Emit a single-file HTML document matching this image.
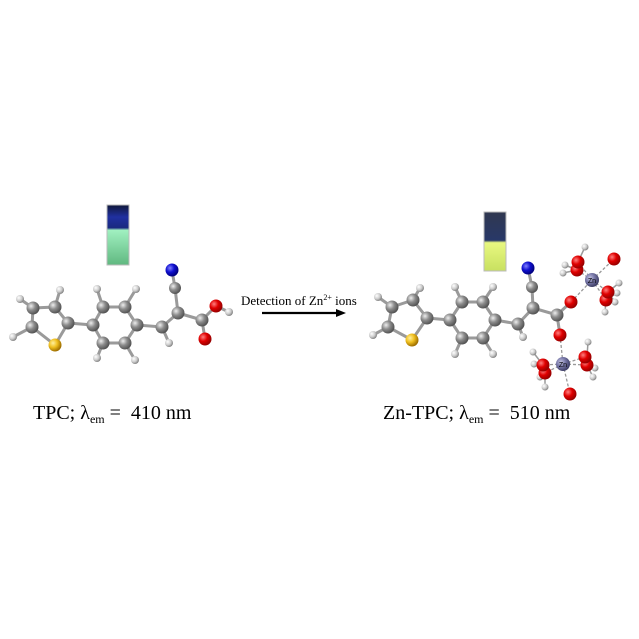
<!DOCTYPE html>
<html><head><meta charset="utf-8"><style>
html,body{margin:0;padding:0;background:#fff;width:639px;height:639px;overflow:hidden}
svg{display:block}
text{font-family:"Liberation Serif",serif;fill:#000}
</style></head><body>
<svg width="639" height="639" viewBox="0 0 639 639" xmlns="http://www.w3.org/2000/svg">
<defs>
<radialGradient id="gC" cx="35%" cy="35%" r="65%"><stop offset="0" stop-color="#eee"/><stop offset="0.5" stop-color="#8c8c8c"/><stop offset="1" stop-color="#555"/></radialGradient>
<radialGradient id="gH" cx="35%" cy="35%" r="65%"><stop offset="0" stop-color="#fff"/><stop offset="0.6" stop-color="#ccc"/><stop offset="1" stop-color="#888"/></radialGradient>
<radialGradient id="gO" cx="35%" cy="35%" r="65%"><stop offset="0" stop-color="#ff8080"/><stop offset="0.5" stop-color="#e00000"/><stop offset="1" stop-color="#900"/></radialGradient>
<radialGradient id="gN" cx="35%" cy="35%" r="65%"><stop offset="0" stop-color="#8080ff"/><stop offset="0.5" stop-color="#1010d0"/><stop offset="1" stop-color="#000080"/></radialGradient>
<radialGradient id="gS" cx="35%" cy="35%" r="65%"><stop offset="0" stop-color="#fff0a0"/><stop offset="0.5" stop-color="#f0c020"/><stop offset="1" stop-color="#a07000"/></radialGradient>
<radialGradient id="gZ" cx="35%" cy="35%" r="65%"><stop offset="0" stop-color="#c0c0e0"/><stop offset="0.5" stop-color="#7878a8"/><stop offset="1" stop-color="#404068"/></radialGradient>
<linearGradient id="v1" x1="0" y1="0" x2="0" y2="1"><stop offset="0" stop-color="#10183a"/><stop offset="0.2" stop-color="#2030a0"/><stop offset="0.38" stop-color="#1a2a80"/><stop offset="0.42" stop-color="#a0f0c0"/><stop offset="1" stop-color="#60b880"/></linearGradient>
<linearGradient id="v2" x1="0" y1="0" x2="0" y2="1"><stop offset="0" stop-color="#303850"/><stop offset="0.48" stop-color="#283868"/><stop offset="0.52" stop-color="#e8f880"/><stop offset="1" stop-color="#c8e060"/></linearGradient>
</defs>

<rect x="107" y="205" width="22" height="60" fill="url(#v1)" stroke="#bbb"/>
<rect x="484" y="212" width="22" height="59" fill="url(#v2)" stroke="#bbb"/>

<g stroke="#9a9a9a" stroke-width="3" fill="none">
<path d="M20 299L33 308L55 307L60 290M55 307L68 323L55 345L32 327L33 308M32 327L13 337M68 323L93 325L103 307L125 307L137 325L125 343L103 343L93 325M103 307L97 289M125 307L136 289M125 343L135 360M103 343L97 358M137 325L162 327L178 313L175 288L172 270M162 327L169 343M178 313L202 320L216 306L229 312M202 320L205 339"/>
</g>
<g stroke="#9a9a9a" stroke-width="3" fill="none">
<path d="M378 297L392 307L413 300L420 288M413 300L427 318L412 340L388 327L392 307M388 327L373 335M427 318L450 320L462 302L483 302L495 320L483 338L462 338L450 320M462 302L455 287M483 302L493 287M483 338L493 354M462 338L455 354M495 320L518 324L533 308L532 287L528 268M518 324L523 337M533 308L557 315L571 302M557 315L560 335"/>
<path stroke-width="1.5" d="M578 262L585 247M577 270L565 265M577 270L563 273M608 292L619 283M606 300L617 293M606 300L605 312M608 292L615 302M587 357L588 342M543 365L533 352M543 365L534 364M545 373L540 377M545 373L545 387M587 365L595 368M587 365L593 377"/>
</g>
<g stroke="#999" stroke-width="1.3" stroke-dasharray="3,2" fill="none">
<path d="M571 302L592 280M592 280L578 262M592 280L577 270M592 280L614 259M592 280L608 292M592 280L606 300M560 335L563 364M563 364L543 365M563 364L545 373M563 364L585 357M563 364L587 365M563 364L570 394"/>
</g>

<g>
<circle cx="20" cy="299" r="4" fill="url(#gH)"/><circle cx="60" cy="290" r="4" fill="url(#gH)"/><circle cx="13" cy="337" r="4" fill="url(#gH)"/>
<circle cx="97" cy="289" r="4" fill="url(#gH)"/><circle cx="136" cy="289" r="4" fill="url(#gH)"/><circle cx="135" cy="360" r="4" fill="url(#gH)"/><circle cx="97" cy="358" r="4" fill="url(#gH)"/><circle cx="169" cy="343" r="4" fill="url(#gH)"/><circle cx="229" cy="312" r="4" fill="url(#gH)"/>
<circle cx="33" cy="308" r="6.5" fill="url(#gC)"/><circle cx="55" cy="307" r="6.5" fill="url(#gC)"/><circle cx="68" cy="323" r="6.5" fill="url(#gC)"/><circle cx="32" cy="327" r="6.5" fill="url(#gC)"/>
<circle cx="55" cy="345" r="6.5" fill="url(#gS)"/>
<circle cx="93" cy="325" r="6.5" fill="url(#gC)"/><circle cx="103" cy="307" r="6.5" fill="url(#gC)"/><circle cx="125" cy="307" r="6.5" fill="url(#gC)"/><circle cx="137" cy="325" r="6.5" fill="url(#gC)"/><circle cx="125" cy="343" r="6.5" fill="url(#gC)"/><circle cx="103" cy="343" r="6.5" fill="url(#gC)"/>
<circle cx="162" cy="327" r="6.5" fill="url(#gC)"/><circle cx="178" cy="313" r="6.5" fill="url(#gC)"/><circle cx="175" cy="288" r="6" fill="url(#gC)"/>
<circle cx="172" cy="270" r="6.5" fill="url(#gN)"/>
<circle cx="202" cy="320" r="6.5" fill="url(#gC)"/><circle cx="216" cy="306" r="6.5" fill="url(#gO)"/><circle cx="205" cy="339" r="6.5" fill="url(#gO)"/>
</g>

<g>
<circle cx="378" cy="297" r="4" fill="url(#gH)"/><circle cx="420" cy="288" r="4" fill="url(#gH)"/><circle cx="373" cy="335" r="4" fill="url(#gH)"/>
<circle cx="455" cy="287" r="4" fill="url(#gH)"/><circle cx="493" cy="287" r="4" fill="url(#gH)"/><circle cx="493" cy="354" r="4" fill="url(#gH)"/><circle cx="455" cy="354" r="4" fill="url(#gH)"/><circle cx="523" cy="337" r="4" fill="url(#gH)"/>
<circle cx="392" cy="307" r="6.5" fill="url(#gC)"/><circle cx="413" cy="300" r="6.5" fill="url(#gC)"/><circle cx="427" cy="318" r="6.5" fill="url(#gC)"/><circle cx="388" cy="327" r="6.5" fill="url(#gC)"/>
<circle cx="412" cy="340" r="6.5" fill="url(#gS)"/>
<circle cx="450" cy="320" r="6.5" fill="url(#gC)"/><circle cx="462" cy="302" r="6.5" fill="url(#gC)"/><circle cx="483" cy="302" r="6.5" fill="url(#gC)"/><circle cx="495" cy="320" r="6.5" fill="url(#gC)"/><circle cx="483" cy="338" r="6.5" fill="url(#gC)"/><circle cx="462" cy="338" r="6.5" fill="url(#gC)"/>
<circle cx="518" cy="324" r="6.5" fill="url(#gC)"/><circle cx="533" cy="308" r="6.5" fill="url(#gC)"/><circle cx="532" cy="287" r="6" fill="url(#gC)"/>
<circle cx="528" cy="268" r="6.5" fill="url(#gN)"/>
<circle cx="557" cy="315" r="6.5" fill="url(#gC)"/><circle cx="571" cy="302" r="6.5" fill="url(#gO)"/><circle cx="560" cy="335" r="6.5" fill="url(#gO)"/>
<circle cx="585" cy="247" r="3.5" fill="url(#gH)"/><circle cx="565" cy="265" r="3.5" fill="url(#gH)"/><circle cx="563" cy="273" r="3.5" fill="url(#gH)"/><circle cx="619" cy="283" r="3.5" fill="url(#gH)"/><circle cx="617" cy="293" r="3.5" fill="url(#gH)"/><circle cx="605" cy="312" r="3.5" fill="url(#gH)"/><circle cx="615" cy="302" r="3.5" fill="url(#gH)"/>
<circle cx="577" cy="270" r="6.5" fill="url(#gO)"/><circle cx="578" cy="262" r="6.5" fill="url(#gO)"/><circle cx="614" cy="259" r="6.5" fill="url(#gO)"/><circle cx="606" cy="300" r="6.5" fill="url(#gO)"/><circle cx="608" cy="292" r="6.5" fill="url(#gO)"/>
<circle cx="592" cy="280" r="7" fill="url(#gZ)"/><text x="592" y="283" font-size="7" text-anchor="middle" style="font-family:'Liberation Sans',sans-serif">Zn</text>
<circle cx="588" cy="342" r="3.5" fill="url(#gH)"/><circle cx="533" cy="352" r="3.5" fill="url(#gH)"/><circle cx="534" cy="364" r="3.5" fill="url(#gH)"/><circle cx="540" cy="377" r="3.5" fill="url(#gH)"/><circle cx="545" cy="387" r="3.5" fill="url(#gH)"/><circle cx="595" cy="368" r="3.5" fill="url(#gH)"/><circle cx="593" cy="377" r="3.5" fill="url(#gH)"/>
<circle cx="545" cy="373" r="6.5" fill="url(#gO)"/><circle cx="543" cy="365" r="6.5" fill="url(#gO)"/><circle cx="587" cy="365" r="6.5" fill="url(#gO)"/><circle cx="585" cy="357" r="6.5" fill="url(#gO)"/><circle cx="570" cy="394" r="6.5" fill="url(#gO)"/>
<circle cx="563" cy="364" r="7" fill="url(#gZ)"/><text x="563" y="367" font-size="7" text-anchor="middle" style="font-family:'Liberation Sans',sans-serif">Zn</text>
</g>

<text x="241" y="305" font-size="13">Detection of Zn<tspan font-size="8" dy="-5">2+</tspan><tspan dy="5"> ions</tspan></text>
<line x1="262" y1="313" x2="338" y2="313" stroke="#000" stroke-width="2.2"/>
<polygon points="346,313 336,309 336,317" fill="#000"/>

<text x="33" y="419" font-size="20">TPC; λ<tspan font-size="12" dy="4">em</tspan><tspan dy="-4"> =&#160; 410 nm</tspan></text>
<text x="383" y="419" font-size="20">Zn-TPC; λ<tspan font-size="12" dy="4">em</tspan><tspan dy="-4"> =&#160; 510 nm</tspan></text>
</svg>
</body></html>
